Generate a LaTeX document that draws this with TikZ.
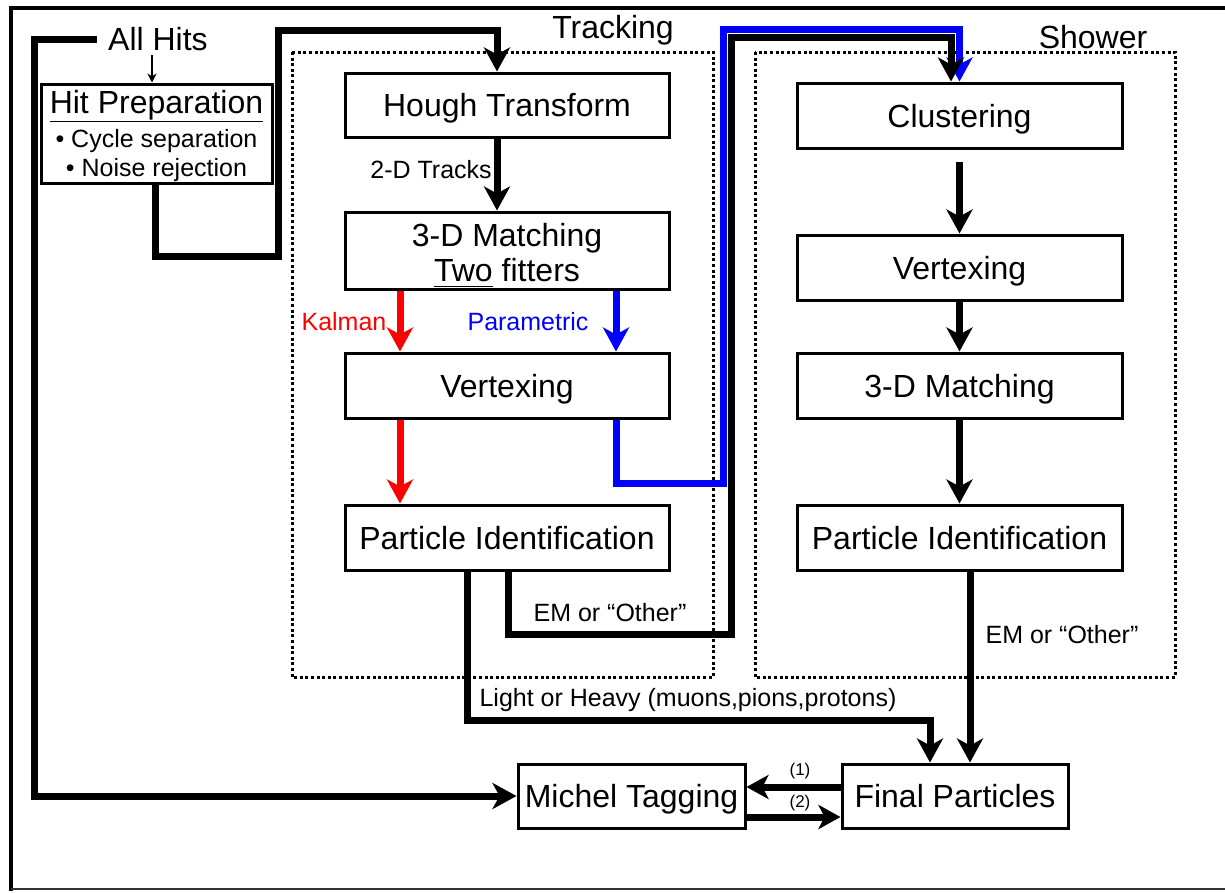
\documentclass[tikz,border=0pt]{standalone}
\usepackage{fontspec}
\setmainfont{Liberation Sans}
\usetikzlibrary{arrows.meta}
\begin{document}
\begin{tikzpicture}[x=1pt,y=-1pt,
  box/.style={draw,line width=3pt,minimum width=324pt,minimum height=65pt,
    inner sep=2pt,text depth=0pt,font=\fontsize{32}{35}\selectfont,align=center},
  conn/.style={line width=7pt,-{Stealth[length=24pt,width=26pt,inset=7pt]}},
  conntwo/.style={line width=7pt,-{Stealth[length=22pt,width=24pt,inset=6pt]}},
  thinarrow/.style={line width=1.5pt,-{Stealth[length=9pt,width=9pt]}},
  lbl/.style={font=\fontsize{25}{28}\selectfont,inner sep=0pt},
  heading/.style={font=\fontsize{32}{35}\selectfont,inner sep=0pt},
  tiny/.style={font=\fontsize{17}{19}\selectfont,inner sep=0pt},
  group/.style={line width=3pt,dash pattern=on 3pt off 2.6pt}]
\useasboundingbox (0,0) rectangle (1225,892);

% outer frame
\draw[line width=4pt] (1240,8) -- (11,8) -- (11,891);
\draw[line width=2pt,black!80] (11,889) -- (1240,889);

% stage groups
\draw[group] (292,52) rectangle (713,677);
\draw[group] (755,52) rectangle (1175,677);
\node[heading] (trk) at (613,30) {Tracking};
\node[heading] (shw) at (1093,37) {Shower};

% input and preparation
\node[heading,inner xsep=11pt] (hits) at (158,39) {All Hits};
\node[box,minimum width=231pt,minimum height=99pt,font=\fontsize{25}{29}\selectfont] (hp) at (156.5,133.5)
  {{\fontsize{32}{32}\selectfont\underline{Hit Preparation}}\\[5pt] • Cycle separation\\ • Noise rejection};

% tracking chain
\node[box,minimum height=64pt] (ht) at (507,105) {Hough Transform};
\node[box,minimum height=77pt,text height=62pt] (tm) at (507,250.5) {3-D Matching\\\underline{Two\rule[-3pt]{0pt}{1pt}} fitters};
\node[box] (tv) at (507,385.5) {Vertexing};
\node[box] (tp) at (507,537.5) {Particle Identification};

% shower chain
\node[box,minimum width=325pt] (cl) at (959.5,115.5) {Clustering};
\node[box,minimum width=325pt] (sv) at (959.5,267.5) {Vertexing};
\node[box,minimum width=325pt] (sm) at (959.5,385.5) {3-D Matching};
\node[box,minimum width=325pt] (sp) at (959.5,537.5) {Particle Identification};

% output
\node[box,minimum width=227pt,minimum height=64pt] (mt) at (631.5,796) {Michel Tagging};
\node[box,minimum width=226pt,minimum height=64pt] (fp) at (955,796) {Final Particles};

% bends
\coordinate (lc) at (34,796);
\coordinate (ha) at (152,55);
\coordinate (b1) at (278,256);
\coordinate (b2) at (278,30);
\coordinate (p1) at (723,483);
\coordinate (p2) at (723,29);
\coordinate (q1) at (731,634);
\coordinate (q2) at (731,37);
\coordinate (r1) at (930,720);

% all hits feed
\draw[conn] (hits.west) -| (lc) -- (mt.west);
\draw[thinarrow] (ha) -- (ha |- hp.north);
\draw[conn] ([xshift=-1.5pt]hp.south) |- (b1) -- (b2) -| ([xshift=-10pt]ht.north);

% tracking connectors
\draw[conn] ([xshift=-10pt]ht.south) -- ([xshift=-10pt]tm.north);
\node[lbl] (l2d) at (431,170) {2-D Tracks};
\draw[conn,red] ([xshift=-107pt]tm.south) -- ([xshift=-107pt]tv.north);
\draw[conn,red] ([xshift=-107pt]tv.south) -- ([xshift=-107pt]tp.north);
\draw[conn,blue] ([xshift=109pt]tm.south) -- ([xshift=109pt]tv.north);
\node[lbl,text=red] (lk) at (344,322) {Kalman};
\node[lbl,text=blue] (lpm) at (528,322) {Parametric};

% routes into the shower chain
\draw[conn,blue] ([xshift=109pt]tv.south) |- (p1) -- (p2) -| (cl.north);
\draw[conn] ([xshift=1pt]tp.south) |- (q1) -- (q2) -| ([xshift=-8.5pt]cl.north);
\node[lbl] (lem1) at (610,613) {EM or “Other”};

% tracks to final particles
\draw[conn] ([xshift=-40pt]tp.south) |- (r1) -- ([xshift=-25pt]fp.north);
\node[lbl] (llh) at (688,700) {Light or Heavy (muons,pions,protons)};

% shower connectors
\draw[conn] ([yshift=-12pt]cl.south) -- (sv.north);
\draw[conn] (sv.south) -- (sm.north);
\draw[conn] (sm.south) -- (sp.north);
\draw[conn] ([xshift=10.5pt]sp.south) -- ([xshift=15pt]fp.north);
\node[lbl] (lem2) at (1062,635) {EM or “Other”};

% michel tagging loop
\draw[conntwo] ([yshift=9pt]fp.west) -- ([yshift=9pt]mt.east);
\draw[conntwo] ([yshift=-21pt]mt.east) -- ([yshift=-21pt]fp.west);
\node[tiny] (n1) at (800,771) {(1)};
\node[tiny] (n2) at (800,803) {(2)};
\end{tikzpicture}
\end{document}
